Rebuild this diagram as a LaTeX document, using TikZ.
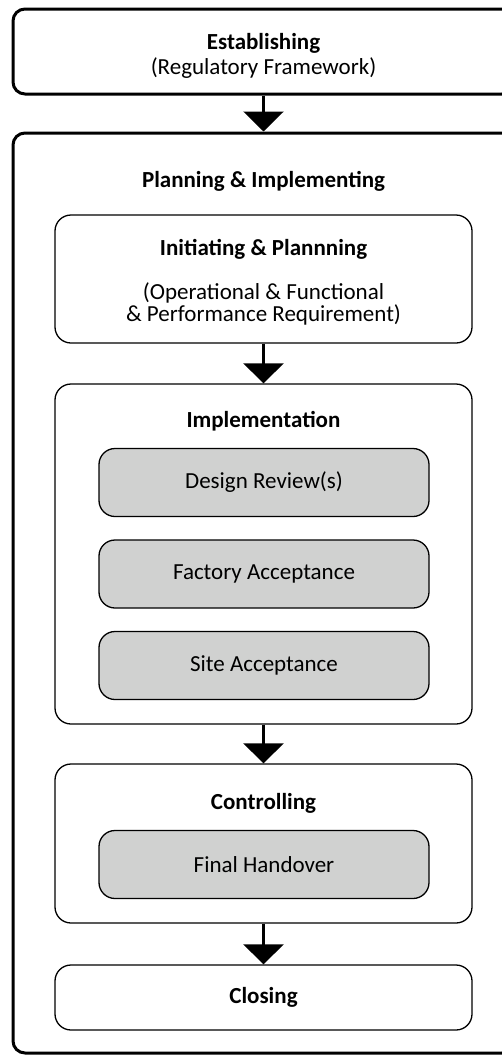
\documentclass[tikz,border=0pt]{standalone}
\usepackage{fontspec}
\setmainfont{Carlito}
\usetikzlibrary{arrows.meta}
\usetikzlibrary{positioning}

\definecolor{boxgray}{RGB}{208,209,208}

\begin{document}
\begin{tikzpicture}[x = 1pt, y = -1pt,
  font = \fontsize{23}{25}\selectfont,
  phase/.style = {draw, line width = 3pt, rounded corners = 12pt,
  minimum width = 501pt},
  stage/.style = {draw, line width = 1.3pt, rounded corners = 16pt,
  minimum width = 417pt},
  task/.style = {draw, line width = 1.3pt, fill = boxgray,
  rounded corners = 16pt, minimum width = 330pt, minimum height = 68pt},
  flow/.style = {line width = 2.5pt,
  -{Triangle[width = 40pt, length = 20pt]}}]
  \useasboundingbox (0, 0) rectangle (502, 1055);
  \clip (0, 0) rectangle (502, 1055);

  % outer phases
  \node[phase, minimum height = 85pt] (est) at (263.5, 51.5) {};
  \node[align = center] (estT) at (263.5, 56)
  {\textbf{Establishing}\\(Regulatory Framework)};
  \node[phase, minimum height = 920pt] (plan) at (263.5, 593) {};
  \node (planT) at (263.5, 181) {\textbf{Planning \& Implementing}};

  % stages inside
  \node[stage, minimum height = 128pt] (init) at (263.5, 279) {};
  \node (initT) at (263.5, 249) {\textbf{Initiating \& Plannning}};
  \node[align = center, font = \fontsize{23}{22}\selectfont] (initR)
  at (263.5, 304) {(Operational \& Functional\\\& Performance Requirement)};

  \node[stage, minimum height = 340pt] (impl) at (263.5, 554) {};
  \node (implT) at (263.5, 421) {\textbf{Implementation}};
  \node[task] (design) at (264, 482.5) {Design Review(s)};
  \node[task] (factory) at (264, 574) {Factory Acceptance};
  \node[task] (site) at (264, 665.5) {Site Acceptance};

  \node[stage, minimum height = 159pt] (ctrl) at (263.5, 843.5) {};
  \node (ctrlT) at (263.5, 803) {\textbf{Controlling}};
  \node[task] (final) at (264, 864.5) {Final Handover};

  \node[stage, minimum height = 65pt] (close) at (263.5, 997.5)
  {\textbf{Closing}};

  \draw[flow] (est) -- (plan);
  \draw[flow] (init) -- (impl);
  \draw[flow] (impl) -- (ctrl);
  \draw[flow] (ctrl) -- (close);
\end{tikzpicture}
\end{document}
